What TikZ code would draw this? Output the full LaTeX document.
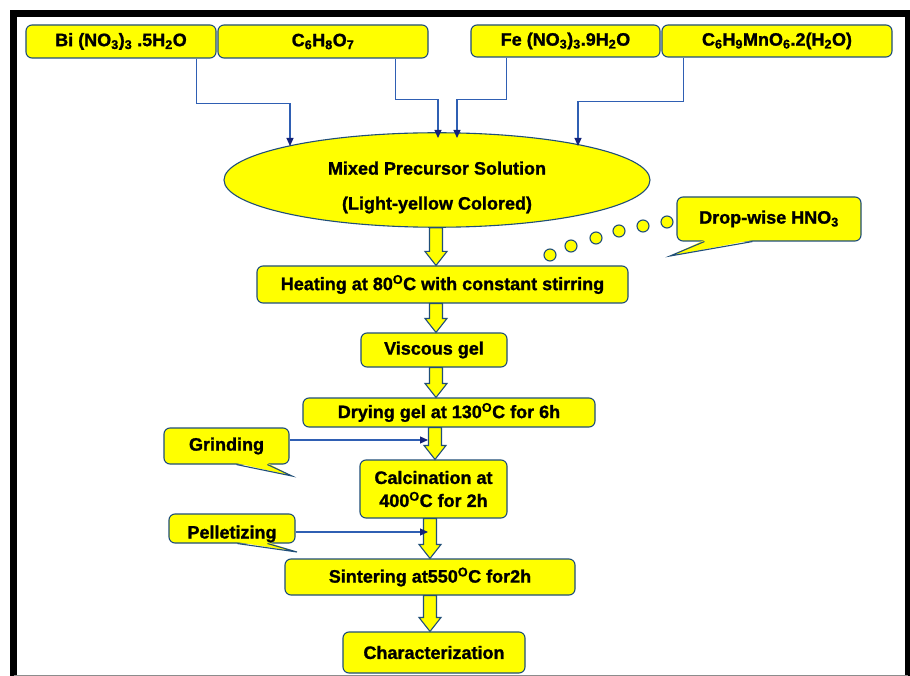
\documentclass[tikz,border=0pt]{standalone}
\usepackage{fontspec}
\setmainfont{Liberation Sans}[BoldFeatures={FakeBold=1.2}]
\usetikzlibrary{arrows.meta, calc, shapes.geometric}
\definecolor{boxyellow}{HTML}{FFFF00}
\definecolor{boxline}{HTML}{1F4E79}
\definecolor{feedblue}{HTML}{2F5FB3}
\definecolor{tipnavy}{HTML}{13237A}
\tikzset{
  stepbox/.style={draw=boxline, fill=boxyellow, rounded corners=6pt, line width=1.1pt,
    inner sep=0pt, align=center, font=\bfseries\fontsize{18}{23}\selectfont},
  mixellipse/.style={stepbox, ellipse, rounded corners=0pt},
  feedline/.style={draw=feedblue, line width=1.1pt,
    -{Triangle[length=8pt, width=7pt, fill=tipnavy, color=tipnavy]}},
  fatarrow/.style={draw=boxline, fill=boxyellow, line width=1.1pt, line join=miter},
  calltail/.style={draw=boxline, line width=1.1pt},
  bubble/.style={draw=boxline, fill=boxyellow, line width=1.1pt},
}
% fat yellow arrow: x position, from node, to node
\newcommand\flowarrow[3]{%
  \draw[fatarrow] let \p1=(#2.south), \p2=(#3.north) in
    ({#1pt-6.5pt},\y1) -- ({#1pt-6.5pt},{\y2+14pt}) -- ({#1pt-11pt},{\y2+14pt})
    -- ({#1pt},\y2) -- ({#1pt+11pt},{\y2+14pt}) -- ({#1pt+6.5pt},{\y2+14pt})
    -- ({#1pt+6.5pt},\y1) -- cycle;}

\begin{document}
\begin{tikzpicture}[x=1pt,y=-1pt]
  \useasboundingbox[fill=white] (0,0) rectangle (910,676);
  % frame
  \draw[line width=7pt] (13.5,676) -- (13.5,13.5) -- (908,13.5) -- (908,676);
  \draw[black!45, line width=1pt] (13.5,675.5) -- (908,675.5);

  % starting chemicals
  \node[stepbox, minimum width=190, minimum height=33] (bi) at (121,41.5)
    {Bi (NO\textsubscript{3})\textsubscript{3} .5H\textsubscript{2}O};
  \node[stepbox, minimum width=210, minimum height=33] (citric) at (323,41.5)
    {C\textsubscript{6}H\textsubscript{8}O\textsubscript{7}};
  \node[stepbox, minimum width=189, minimum height=32] (fe) at (565.5,41)
    {Fe (NO\textsubscript{3})\textsubscript{3}.9H\textsubscript{2}O};
  \node[stepbox, minimum width=230, minimum height=32] (mnac) at (777,41)
    {C\textsubscript{6}H\textsubscript{9}MnO\textsubscript{6}.2(H\textsubscript{2}O)};

  % process steps
  \node[mixellipse, minimum width=426, minimum height=84] (mix) at (437,180)
    {\rule{0pt}{28pt}Mixed Precursor Solution\\[12pt](Light-yellow Colored)};
  \node[stepbox, minimum width=371, minimum height=37] (heat) at (442.5,284.5)
    {Heating at 80\textsuperscript{O}C with constant stirring};
  \node[stepbox, minimum width=146, minimum height=34] (visc) at (434,350) {Viscous gel};
  \node[stepbox, minimum width=292, minimum height=29] (dry) at (449,412.5)
    {Drying gel at 130\textsuperscript{O}C for 6h};
  \node[stepbox, minimum width=147, minimum height=58] (calc) at (433.5,489)
    {Calcination at\\400\textsuperscript{O}C for 2h};
  \node[stepbox, minimum width=290, minimum height=36] (sinter) at (430,577)
    {Sintering at550\textsuperscript{O}C for2h};
  \node[stepbox, minimum width=182, minimum height=41] (charz) at (434,652.5)
    {Characterization};

  % side notes
  \node[stepbox, minimum width=184, minimum height=44] (drop) at (769,219)
    {Drop-wise HNO\textsubscript{3}};
  \node[stepbox, minimum width=125, minimum height=36] (grind) at (226.5,446) {Grinding};
  \node[stepbox, minimum width=126, minimum height=29] (pellet) at (232,528.5)
    {\raisebox{-10pt}[0pt][0pt]{Pelletizing}};

  % callout tails
  \coordinate (droptip) at (670,256);
  \coordinate (grindtip) at (292,476);
  \coordinate (pellettip) at (297,552);
  \fill[boxyellow] ([xshift=28pt,yshift=1.5pt]drop.south west) -- (droptip)
    -- ([xshift=76pt,yshift=1.5pt]drop.south west) -- cycle;
  \draw[calltail] ([xshift=28pt]drop.south west) -- (droptip) -- ([xshift=76pt]drop.south west);
  \fill[boxyellow] ([xshift=73pt,yshift=1.5pt]grind.south west) -- (grindtip)
    -- ([xshift=104pt,yshift=1.5pt]grind.south west) -- cycle;
  \draw[calltail] ([xshift=73pt]grind.south west) -- (grindtip) -- ([xshift=104pt]grind.south west);
  \fill[boxyellow] ([xshift=69pt,yshift=1.5pt]pellet.south west) -- (pellettip)
    -- ([xshift=99pt,yshift=1.5pt]pellet.south west) -- cycle;
  \draw[calltail] ([xshift=69pt]pellet.south west) -- (pellettip) -- ([xshift=99pt]pellet.south west);

  % drops of acid
  \foreach \x/\y in {550/255, 571/246, 596/238, 619/231, 643/226, 667/222}
    \draw[bubble] (\x,\y) circle (6pt);

  % feed lines into the solution
  \coordinate (in1) at (290,146);
  \coordinate (in2) at (438,138);
  \coordinate (in3) at (457,138);
  \coordinate (in4) at (578,146);
  \draw[feedline] ([xshift=-20pt]bi.south east) -- ++(0,45) -| (in1);
  \draw[feedline] ([xshift=-33pt]citric.south east) -- ++(0,41) -| (in2);
  \draw[feedline] ([xshift=36pt]fe.south west) -- ++(0,42) -| (in3);
  \draw[feedline] ([xshift=22pt]mnac.south west) -- ++(0,44) -| (in4);

  % main flow
  \flowarrow{436}{mix}{heat}
  \flowarrow{436}{heat}{visc}
  \flowarrow{436}{visc}{dry}
  \flowarrow{435}{dry}{calc}
  \flowarrow{430}{calc}{sinter}
  \flowarrow{430}{sinter}{charz}

  % side additions
  \coordinate (grindin) at (428,440);
  \coordinate (pelletin) at (428,532);
  \draw[feedline] (grind.east |- grindin) -- (grindin);
  \draw[feedline] (pellet.east |- pelletin) -- (pelletin);
\end{tikzpicture}
\end{document}
